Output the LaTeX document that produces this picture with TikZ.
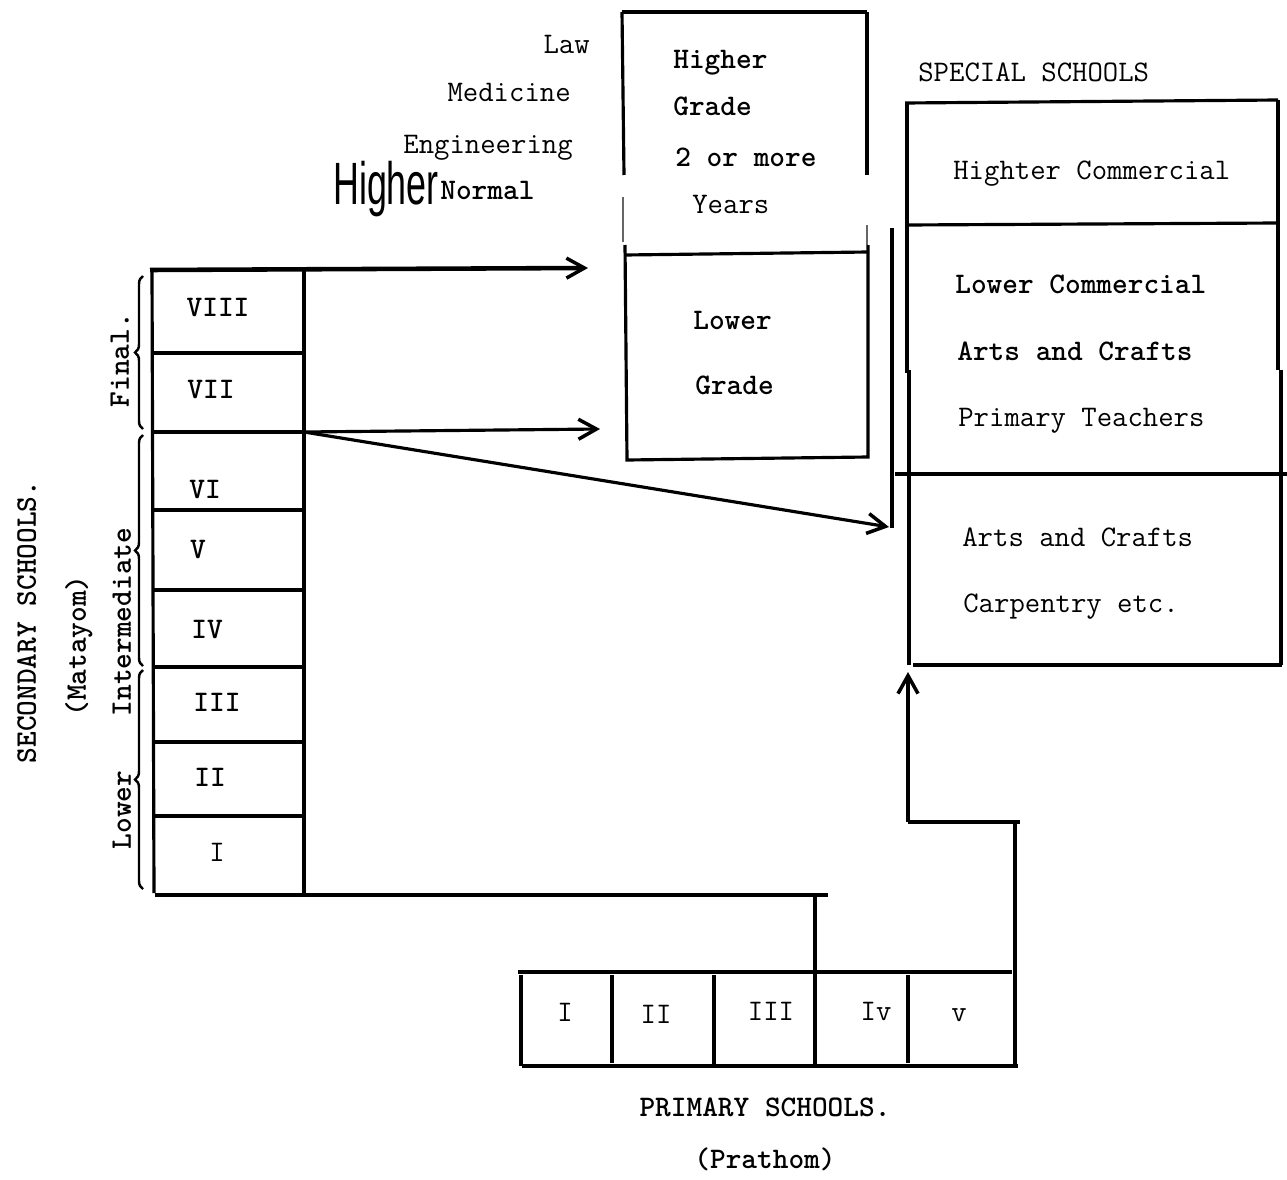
\documentclass[tikz,border=0pt]{standalone}
\usepackage{fontspec}
\newfontfamily\sansfam{Liberation Sans}
\usetikzlibrary{arrows.meta,decorations.pathreplacing}
\begin{document}
\begin{tikzpicture}[x=0.02cm,y=-0.02cm,
  txt/.style={font=\ttfamily\fontsize{17}{20}\selectfont, inner sep=0pt, text height=10pt, text depth=0pt},
  btxt/.style={txt, font=\ttfamily\fontsize{17}{20}\selectfont\bfseries},
  thinln/.style={line width=1.2pt},
  medln/.style={line width=1.8pt},
  thickln/.style={line width=2.6pt},
  arr/.style={-{Straight Barb[length=3.6mm,width=4mm,line width=2pt]}},
  bracestyle/.style={line width=1.4pt, decorate, decoration={brace, amplitude=0.16cm}}
  ]
\useasboundingbox (0,0) rectangle (1287,1179);
\fill[white] (0,0) rectangle (1287,1179);

% ---------- Secondary schools column ----------
\draw[medln] (152,270) -- (154,893);
\draw[thickln] (304,268) -- (304,893);
\foreach \yy in {353,432,510,590,667,742,816}
  \draw[medln] (152,\yy) -- (304,\yy);
\draw[medln] (155,895) -- (828,895);

\node[btxt] (s8) at (218,308) {VIII};
\node[btxt] (s7) at (211,390) {VII};
\node[btxt] (s6) at (205,490) {VI};
\node[btxt] (s5) at (198,550) {V};
\node[btxt] (s4) at (207,630) {IV};
\node[btxt] (s3) at (217,703) {III};
\node[btxt] (s2) at (210,778) {II};
\node[txt]  (s1) at (217,853) {I};

% braces and labels
\draw[bracestyle] (143,429) -- (143,276);
\draw[bracestyle] (143,666) -- (143,435);
\draw[bracestyle] (143,889) -- (143,670);
\node[btxt, rotate=90] (lfinal) at (120,360) {Final.};
\node[btxt, rotate=90] (linter) at (122,622) {Intermediate};
\node[btxt, rotate=90] (llower) at (122,810) {Lower};
\node[btxt, rotate=90] (lsec) at (27,622) {SECONDARY SCHOOLS.};
\node[btxt, rotate=90] (lmat) at (77,646) {(Matayom)};

% ---------- Arrows from secondary ----------
\coordinate (topl) at (150,270);
\coordinate (tipA) at (588,268);
\coordinate (mid) at (304,432);
\coordinate (tipB) at (600,429);
\coordinate (tipC) at (889,527);
\draw[thickln, arr] (topl) -- (tipA);
\draw[medln, arr] (mid) -- (tipB);
\draw[medln, arr] (mid) -- (tipC);

% ---------- University box ----------
\draw[medln] (622,12) -- (867,12);
\draw[medln] (622,12) -- (624,175);
\draw[medln] (867,12) -- (867,175);
\draw[line width=0.6pt, black!60] (623,197) -- (623,242);
\draw[line width=0.6pt, black!60] (867,225) -- (867,245);
\draw[medln] (625,245) -- (627,460) -- (868,457) -- (868,245);
\draw[medln] (625,255) -- (868,252);

\node[txt, anchor=east] (law) at (590,45) {Law};
\node[txt, anchor=east] (med) at (571,93) {Medicine};
\node[txt, anchor=east] (eng) at (573,145) {Engineering};
\node[inner sep=0pt, anchor=base west, xscale=0.6, font=\sansfam\fontsize{34}{34}\selectfont] (hig) at (333,205) {Higher};
\node[btxt, anchor=base west, text height=, text depth=] (nor) at (440,199) {Normal};

\node[btxt, anchor=west] (hg1) at (673,60) {Higher};
\node[btxt, anchor=west] (hg2) at (673,107) {Grade};
\node[btxt, anchor=west] (hg3) at (675,158) {2 or more};
\node[txt, anchor=west] (hg4) at (692,205) {Years};
\node[btxt, anchor=west] (lg1) at (693,321) {Lower};
\node[btxt, anchor=west] (lg2) at (695,386) {Grade};

% ---------- Special schools ----------
\draw[thickln] (892,228) -- (892,528);
\draw[medln] (905,103) -- (1278,100);
\draw[medln] (907,103) -- (907,373);
\draw[medln] (909,370) -- (909,665);
\draw[medln] (1278,100) -- (1278,370);
\draw[thickln] (1281,370) -- (1281,665);
\draw[medln] (907,225) -- (1278,223);
\draw[thickln] (895,474) -- (1287,474);
\draw[thickln] (913,665) -- (1282,665);

\node[txt, anchor=west] (sp0) at (918,73) {SPECIAL SCHOOLS};
\node[txt, anchor=west] (sp1) at (953,171) {Highter Commercial};
\node[btxt, anchor=west] (sp2) at (955,285) {Lower Commercial};
\node[btxt, anchor=west] (sp3) at (957,352) {Arts and Crafts};
\node[txt, anchor=west] (sp4) at (958,418) {Primary Teachers};
\node[txt, anchor=west] (sp5) at (962,538) {Arts and Crafts};
\node[txt, anchor=west] (sp6) at (963,604) {Carpentry etc.};

% ---------- Primary schools ----------
\draw[thickln] (518,972) -- (1012,972);
\draw[thickln] (522,1066) -- (1018,1066);
\draw[medln] (521,975) -- (521,1066);
\draw[thickln] (612,975) -- (612,1063);
\draw[medln] (714,975) -- (714,1068);
\draw[thickln] (815,895) -- (815,1066);
\draw[thickln] (908,975) -- (908,1063);
\draw[thickln] (1015,822) -- (1015,1066);
\coordinate (pcorner) at (908,822);
\coordinate (tipD) at (908,672);
\draw[thickln] (pcorner) -- (1020,822);
\draw[medln, arr] (pcorner) -- (tipD);

\node[txt] (p1) at (565,1013) {I};
\node[txt] (p2) at (656,1015) {II};
\node[txt] (p3) at (771,1012) {III};
\node[txt] (p4) at (876,1012) {Iv};
\node[txt] (p5) at (959,1013) {v};
\node[btxt] (prim) at (765,1108) {PRIMARY SCHOOLS.};
\node[btxt] (prat) at (765,1160) {(Prathom)};
\end{tikzpicture}
\end{document}
